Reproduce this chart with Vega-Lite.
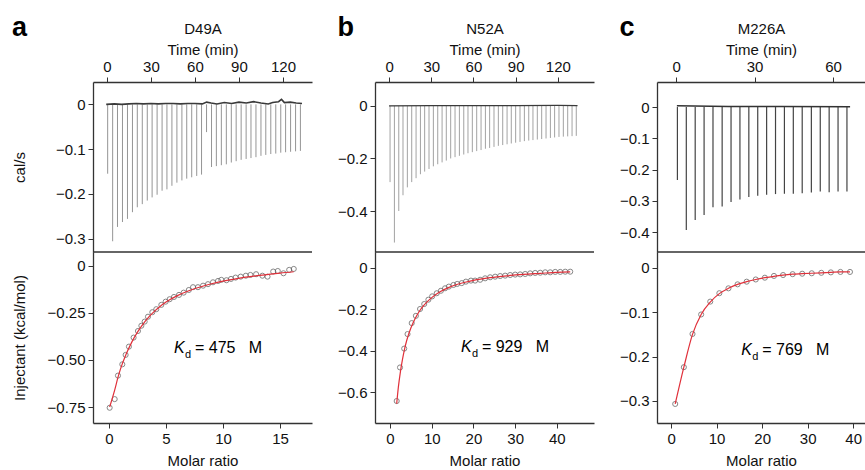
{
"$schema": "https://vega.github.io/schema/vega-lite/v6.json",
"padding": {"left": 12, "top": 14, "right": 0, "bottom": 0},
"config": {
  "font": "Liberation Sans",
  "view": {"stroke": null},
  "axis": {"grid": false, "labelFontSize": 15, "titleFontSize": 15, "titleFontWeight": "normal", "labelColor": "#111", "titleColor": "#111", "domainColor": "#333", "tickColor": "#333", "domainWidth": 1.3, "tickWidth": 1, "tickSize": 5, "labelPadding": 3, "titlePadding": 2, "labelFlush": false, "labelOverlap": false},
  "axisY": {"titlePadding": 5},
  "axisBottom": {"titlePadding": 7},
  "title": {"fontSize": 27, "fontWeight": "bold", "anchor": "start", "frame": "bounds", "color": "#000", "offset": -21, "baseline": "alphabetic"}
},
"datasets": {
  "spikesA": [{"t":0.5,"v":-0.155},{"t":3.9,"v":-0.306},{"t":7.2,"v":-0.274},{"t":10.6,"v":-0.263},{"t":14.0,"v":-0.256},{"t":17.4,"v":-0.241},{"t":20.7,"v":-0.23},{"t":24.1,"v":-0.223},{"t":27.5,"v":-0.215},{"t":30.8,"v":-0.208},{"t":34.2,"v":-0.202},{"t":37.6,"v":-0.193},{"t":40.9,"v":-0.19},{"t":44.3,"v":-0.182},{"t":47.7,"v":-0.175},{"t":51.1,"v":-0.17},{"t":54.4,"v":-0.166},{"t":57.8,"v":-0.163},{"t":61.2,"v":-0.16},{"t":64.5,"v":-0.157},{"t":67.9,"v":-0.062},{"t":71.3,"v":-0.14},{"t":74.6,"v":-0.138},{"t":78.0,"v":-0.136},{"t":81.4,"v":-0.134},{"t":84.8,"v":-0.13},{"t":88.1,"v":-0.127},{"t":91.5,"v":-0.124},{"t":94.9,"v":-0.122},{"t":98.2,"v":-0.12},{"t":101.6,"v":-0.118},{"t":105.0,"v":-0.115},{"t":108.3,"v":-0.113},{"t":111.7,"v":-0.111},{"t":115.1,"v":-0.11},{"t":118.5,"v":-0.108},{"t":121.8,"v":-0.107},{"t":125.2,"v":-0.106},{"t":128.6,"v":-0.105},{"t":131.9,"v":-0.104}],
  "baseA": [{"t":-0.5,"v":0},{"t":5,"v":0.001},{"t":10,"v":0},{"t":15,"v":0.001},{"t":20,"v":0.002},{"t":25,"v":0.001},{"t":30,"v":0.002},{"t":35,"v":0.001},{"t":40,"v":0.002},{"t":45,"v":0.002},{"t":50,"v":0.001},{"t":55,"v":0.002},{"t":60,"v":0.002},{"t":65,"v":0.001},{"t":68,"v":0.005},{"t":71,"v":0.003},{"t":75,"v":0.001},{"t":80,"v":0.004},{"t":85,"v":0.002},{"t":90,"v":0.005},{"t":95,"v":0.003},{"t":100,"v":0.006},{"t":105,"v":0.003},{"t":110,"v":0.001},{"t":113,"v":0.004},{"t":117,"v":0.006},{"t":119,"v":0.011},{"t":121,"v":0.004},{"t":125,"v":0.005},{"t":129,"v":0.003},{"t":133,"v":0.002}],
  "spikesB": [{"t":0.7,"v":-0.29},{"t":3.8,"v":-0.52},{"t":6.9,"v":-0.4},{"t":9.9,"v":-0.34},{"t":13.0,"v":-0.31},{"t":16.1,"v":-0.29},{"t":19.2,"v":-0.275},{"t":22.3,"v":-0.26},{"t":25.3,"v":-0.25},{"t":28.4,"v":-0.24},{"t":31.5,"v":-0.23},{"t":34.6,"v":-0.222},{"t":37.7,"v":-0.215},{"t":40.7,"v":-0.208},{"t":43.8,"v":-0.2},{"t":46.9,"v":-0.195},{"t":50.0,"v":-0.19},{"t":53.1,"v":-0.185},{"t":56.1,"v":-0.18},{"t":59.2,"v":-0.176},{"t":62.3,"v":-0.172},{"t":65.4,"v":-0.168},{"t":68.5,"v":-0.163},{"t":71.5,"v":-0.16},{"t":74.6,"v":-0.156},{"t":77.7,"v":-0.152},{"t":80.8,"v":-0.149},{"t":83.9,"v":-0.146},{"t":86.9,"v":-0.143},{"t":90.0,"v":-0.14},{"t":93.1,"v":-0.137},{"t":96.2,"v":-0.134},{"t":99.3,"v":-0.132},{"t":102.3,"v":-0.13},{"t":105.4,"v":-0.128},{"t":108.5,"v":-0.126},{"t":111.6,"v":-0.124},{"t":114.7,"v":-0.122},{"t":117.7,"v":-0.12},{"t":120.8,"v":-0.118},{"t":123.9,"v":-0.117},{"t":127.0,"v":-0.116},{"t":130.1,"v":-0.115},{"t":133.1,"v":-0.114}],
  "baseB": [{"t":0,"v":0},{"t":30,"v":0.001},{"t":60,"v":0.001},{"t":90,"v":0.001},{"t":120,"v":0.002},{"t":134,"v":0.001}],
  "spikesC": [{"t":0.5,"v":-0.233},{"t":3.9,"v":-0.393},{"t":7.3,"v":-0.361},{"t":10.7,"v":-0.345},{"t":14.1,"v":-0.32},{"t":17.6,"v":-0.318},{"t":21.0,"v":-0.303},{"t":24.4,"v":-0.295},{"t":27.8,"v":-0.287},{"t":31.2,"v":-0.283},{"t":34.6,"v":-0.28},{"t":38.0,"v":-0.278},{"t":41.4,"v":-0.277},{"t":44.8,"v":-0.277},{"t":48.2,"v":-0.275},{"t":51.7,"v":-0.273},{"t":55.1,"v":-0.27},{"t":58.5,"v":-0.272},{"t":61.9,"v":-0.27},{"t":65.3,"v":-0.27}],
  "baseC": [{"t":0.3,"v":0.004},{"t":20,"v":0.002},{"t":40,"v":0.002},{"t":66.5,"v":0.001}],
  "ptsA": [{"mr":0.06,"h":-0.754},{"mr":0.5,"h":-0.708},{"mr":0.79,"h":-0.583},{"mr":1.17,"h":-0.523},{"mr":1.46,"h":-0.473},{"mr":1.75,"h":-0.429},{"mr":2.16,"h":-0.381},{"mr":2.54,"h":-0.346},{"mr":2.84,"h":-0.318},{"mr":3.13,"h":-0.296},{"mr":3.42,"h":-0.27},{"mr":3.8,"h":-0.246},{"mr":4.15,"h":-0.23},{"mr":4.59,"h":-0.207},{"mr":4.97,"h":-0.19},{"mr":5.32,"h":-0.177},{"mr":5.7,"h":-0.165},{"mr":6.14,"h":-0.154},{"mr":6.55,"h":-0.142},{"mr":7.0,"h":-0.128},{"mr":7.37,"h":-0.113},{"mr":7.8,"h":-0.113},{"mr":8.25,"h":-0.105},{"mr":8.68,"h":-0.097},{"mr":9.12,"h":-0.087},{"mr":9.56,"h":-0.08},{"mr":9.85,"h":-0.074},{"mr":10.3,"h":-0.076},{"mr":10.7,"h":-0.069},{"mr":11.1,"h":-0.062},{"mr":11.55,"h":-0.057},{"mr":12.0,"h":-0.052},{"mr":12.4,"h":-0.048},{"mr":12.9,"h":-0.044},{"mr":13.45,"h":-0.052},{"mr":13.9,"h":-0.057},{"mr":14.4,"h":-0.03},{"mr":14.8,"h":-0.027},{"mr":15.3,"h":-0.039},{"mr":15.8,"h":-0.021},{"mr":16.2,"h":-0.016}],
  "fitA": [{"mr":0.06,"h":-0.75},{"mr":0.5,"h":-0.66},{"mr":0.8,"h":-0.59},{"mr":1,"h":-0.55},{"mr":1.5,"h":-0.47},{"mr":2,"h":-0.405},{"mr":2.5,"h":-0.352},{"mr":3,"h":-0.308},{"mr":3.5,"h":-0.271},{"mr":4,"h":-0.24},{"mr":4.5,"h":-0.214},{"mr":5,"h":-0.192},{"mr":6,"h":-0.158},{"mr":7,"h":-0.132},{"mr":8,"h":-0.112},{"mr":9,"h":-0.095},{"mr":10,"h":-0.081},{"mr":11,"h":-0.07},{"mr":12,"h":-0.06},{"mr":13,"h":-0.052},{"mr":14,"h":-0.045},{"mr":15,"h":-0.038},{"mr":16.2,"h":-0.031}],
  "ptsB": [{"mr":1.6,"h":-0.642},{"mr":2.4,"h":-0.48},{"mr":3.4,"h":-0.389},{"mr":4.2,"h":-0.319},{"mr":5.2,"h":-0.266},{"mr":6.2,"h":-0.231},{"mr":7.2,"h":-0.198},{"mr":8.2,"h":-0.174},{"mr":9.2,"h":-0.153},{"mr":10.1,"h":-0.137},{"mr":11.2,"h":-0.122},{"mr":12.2,"h":-0.11},{"mr":13.2,"h":-0.098},{"mr":14.1,"h":-0.09},{"mr":15.2,"h":-0.082},{"mr":16.1,"h":-0.077},{"mr":17.2,"h":-0.073},{"mr":18.2,"h":-0.066},{"mr":19.4,"h":-0.061},{"mr":20.4,"h":-0.061},{"mr":21.6,"h":-0.057},{"mr":22.8,"h":-0.05},{"mr":24.0,"h":-0.045},{"mr":25.2,"h":-0.042},{"mr":26.4,"h":-0.039},{"mr":27.6,"h":-0.037},{"mr":28.8,"h":-0.034},{"mr":30.0,"h":-0.032},{"mr":31.2,"h":-0.031},{"mr":32.4,"h":-0.029},{"mr":33.6,"h":-0.026},{"mr":34.8,"h":-0.024},{"mr":36.0,"h":-0.023},{"mr":37.2,"h":-0.021},{"mr":38.4,"h":-0.021},{"mr":39.6,"h":-0.019},{"mr":40.8,"h":-0.019},{"mr":42.0,"h":-0.018},{"mr":43.2,"h":-0.018}],
  "fitB": [{"mr":1.6,"h":-0.655},{"mr":2,"h":-0.575},{"mr":2.5,"h":-0.5},{"mr":3,"h":-0.44},{"mr":3.5,"h":-0.39},{"mr":4,"h":-0.35},{"mr":5,"h":-0.29},{"mr":6,"h":-0.245},{"mr":7,"h":-0.21},{"mr":8,"h":-0.183},{"mr":9,"h":-0.161},{"mr":10,"h":-0.143},{"mr":12,"h":-0.115},{"mr":14,"h":-0.095},{"mr":16,"h":-0.08},{"mr":18,"h":-0.069},{"mr":20,"h":-0.06},{"mr":24,"h":-0.047},{"mr":28,"h":-0.038},{"mr":32,"h":-0.031},{"mr":36,"h":-0.026},{"mr":40,"h":-0.021},{"mr":43.2,"h":-0.019}],
  "ptsC": [{"mr":0.9,"h":-0.307},{"mr":2.8,"h":-0.224},{"mr":4.7,"h":-0.149},{"mr":6.6,"h":-0.105},{"mr":8.6,"h":-0.076},{"mr":10.6,"h":-0.057},{"mr":12.6,"h":-0.046},{"mr":14.6,"h":-0.037},{"mr":16.6,"h":-0.031},{"mr":18.6,"h":-0.026},{"mr":20.6,"h":-0.022},{"mr":22.6,"h":-0.018},{"mr":24.6,"h":-0.016},{"mr":26.7,"h":-0.014},{"mr":28.8,"h":-0.013},{"mr":30.9,"h":-0.012},{"mr":33.0,"h":-0.011},{"mr":35.1,"h":-0.01},{"mr":37.2,"h":-0.009},{"mr":39.3,"h":-0.009}],
  "fitC": [{"mr":0.9,"h":-0.307},{"mr":2.8,"h":-0.224},{"mr":4.7,"h":-0.15},{"mr":6.6,"h":-0.105},{"mr":8.6,"h":-0.077},{"mr":10.6,"h":-0.058},{"mr":12.6,"h":-0.046},{"mr":14.6,"h":-0.037},{"mr":16.6,"h":-0.031},{"mr":18.6,"h":-0.026},{"mr":20.6,"h":-0.022},{"mr":22.6,"h":-0.019},{"mr":24.6,"h":-0.016},{"mr":26.7,"h":-0.014},{"mr":28.8,"h":-0.013},{"mr":30.9,"h":-0.012},{"mr":33.0,"h":-0.011},{"mr":35.1,"h":-0.01},{"mr":37.2,"h":-0.009},{"mr":39.3,"h":-0.009}],
  "edge": [{"line": "divider"}]
},
"columns": 3,
"spacing": {"row": 0, "column": 63},
"bounds": "flush",
"concat": [
  {
    "width": 219, "height": 170, "title": "a",
    "encoding": {
      "x": {"field": "t", "type": "quantitative", "scale": {"domain": [-9.5, 139.8], "nice": false, "zero": false}, "axis": {"orient": "top", "values": [0, 30, 60, 90, 120], "title": ["D49A", "Time (min)"], "titleLineHeight": 21}},
      "y": {"field": "v", "type": "quantitative", "scale": {"domain": [-0.33, 0.05], "nice": false, "zero": false}, "axis": {"values": [0, -0.1, -0.2, -0.3], "title": "cal/s", "minExtent": 61, "labelExpr": "datum.value == 0 ? '0' : format(datum.value, '.1f')"}}
    },
    "layer": [
      {"data": {"name": "spikesA"}, "mark": {"type": "rule", "color": "#7a7a7a", "strokeWidth": 0.8}, "encoding": {"y2": {"datum": 0}}},
      {"data": {"name": "baseA"}, "mark": {"type": "line", "color": "#3a3a3a", "strokeWidth": 1.6}}
    ]
  },
  {
    "width": 219, "height": 170, "title": "b",
    "encoding": {
      "x": {"field": "t", "type": "quantitative", "scale": {"domain": [-10, 145.7], "nice": false, "zero": false}, "axis": {"orient": "top", "values": [0, 30, 60, 90, 120], "title": ["N52A", "Time (min)"], "titleLineHeight": 21}},
      "y": {"field": "v", "type": "quantitative", "scale": {"domain": [-0.556, 0.091], "nice": false, "zero": false}, "axis": {"values": [0, -0.2, -0.4], "title": null, "labelExpr": "datum.value == 0 ? '0' : format(datum.value, '.1f')"}}
    },
    "layer": [
      {"data": {"name": "spikesB"}, "mark": {"type": "rule", "color": "#8a8a8a", "strokeWidth": 0.8}, "encoding": {"y2": {"datum": 0}}},
      {"data": {"name": "baseB"}, "mark": {"type": "line", "color": "#3a3a3a", "strokeWidth": 1.4}}
    ]
  },
  {
    "width": 208, "height": 170, "title": "c",
    "encoding": {
      "x": {"field": "t", "type": "quantitative", "scale": {"domain": [-7.3, 72.2], "nice": false, "zero": false}, "axis": {"orient": "top", "values": [0, 30, 60], "title": ["M226A", "Time (min)"], "titleLineHeight": 21}},
      "y": {"field": "v", "type": "quantitative", "scale": {"domain": [-0.463, 0.08], "nice": false, "zero": false}, "axis": {"values": [0, -0.1, -0.2, -0.3, -0.4], "title": null, "labelExpr": "datum.value == 0 ? '0' : format(datum.value, '.1f')"}}
    },
    "layer": [
      {"data": {"name": "spikesC"}, "mark": {"type": "rule", "color": "#444", "strokeWidth": 1.2}, "encoding": {"y2": {"datum": 0}}},
      {"data": {"name": "baseC"}, "mark": {"type": "line", "color": "#333", "strokeWidth": 1.5}}
    ]
  },
  {
    "width": 219, "height": 171,
    "layer": [
      {"data": {"name": "ptsA"}, "mark": {"type": "point", "shape": "circle", "filled": false, "size": 26, "color": "#555", "strokeWidth": 1},
       "encoding": {
          "x": {"field": "mr", "type": "quantitative", "scale": {"domain": [-1.4, 17.8], "nice": false, "zero": false}, "axis": {"values": [0, 5, 10, 15], "title": "Molar ratio"}},
          "y": {"field": "h", "type": "quantitative", "scale": {"domain": [-0.835, 0.074], "nice": false, "zero": false}, "axis": {"values": [0, -0.25, -0.5, -0.75], "title": "Injectant (kcal/mol)", "minExtent": 61, "labelExpr": "datum.value == 0 ? '0' : format(datum.value, '.2f')"}}}},
      {"data": {"name": "fitA"}, "mark": {"type": "line", "color": "#e0303a", "strokeWidth": 1.2, "interpolate": "monotone"},
       "encoding": {"x": {"field": "mr", "type": "quantitative"}, "y": {"field": "h", "type": "quantitative"}}},
      {"data": {"name": "edge"}, "mark": {"type": "rule", "color": "#333", "strokeWidth": 1.3}, "encoding": {"y": {"datum": 0.074}}},
      {"data": {"values": [{"s": "K"}]}, "mark": {"type": "text", "fontStyle": "italic", "fontSize": 16, "align": "left", "baseline": "alphabetic", "color": "#000"}, "encoding": {"text": {"field": "s"}, "x": {"datum": 5.7}, "y": {"datum": -0.463}}},
      {"data": {"values": [{"s": "d"}]}, "mark": {"type": "text", "fontSize": 11, "dx": 11, "dy": 5, "align": "left", "baseline": "alphabetic", "color": "#000"}, "encoding": {"text": {"field": "s"}, "x": {"datum": 5.7}, "y": {"datum": -0.463}}},
      {"data": {"values": [{"s": "= 475\u00a0\u00a0\u00a0M"}]}, "mark": {"type": "text", "fontSize": 16, "dx": 21, "align": "left", "baseline": "alphabetic", "color": "#000"}, "encoding": {"text": {"field": "s"}, "x": {"datum": 5.7}, "y": {"datum": -0.463}}}
    ]
  },
  {
    "width": 219, "height": 171,
    "layer": [
      {"data": {"name": "ptsB"}, "mark": {"type": "point", "shape": "circle", "filled": false, "size": 26, "color": "#555", "strokeWidth": 1},
       "encoding": {
          "x": {"field": "mr", "type": "quantitative", "scale": {"domain": [-3.6, 48.9], "nice": false, "zero": false}, "axis": {"values": [0, 10, 20, 30, 40], "title": "Molar ratio"}},
          "y": {"field": "h", "type": "quantitative", "scale": {"domain": [-0.748, 0.077], "nice": false, "zero": false}, "axis": {"values": [0, -0.2, -0.4, -0.6], "title": null, "labelExpr": "datum.value == 0 ? '0' : format(datum.value, '.1f')"}}}},
      {"data": {"name": "fitB"}, "mark": {"type": "line", "color": "#e0303a", "strokeWidth": 1.2, "interpolate": "monotone"},
       "encoding": {"x": {"field": "mr", "type": "quantitative"}, "y": {"field": "h", "type": "quantitative"}}},
      {"data": {"name": "edge"}, "mark": {"type": "rule", "color": "#333", "strokeWidth": 1.3}, "encoding": {"y": {"datum": 0.077}}},
      {"data": {"values": [{"s": "K"}]}, "mark": {"type": "text", "fontStyle": "italic", "fontSize": 16, "align": "left", "baseline": "alphabetic", "color": "#000"}, "encoding": {"text": {"field": "s"}, "x": {"datum": 17.0}, "y": {"datum": -0.406}}},
      {"data": {"values": [{"s": "d"}]}, "mark": {"type": "text", "fontSize": 11, "dx": 11, "dy": 5, "align": "left", "baseline": "alphabetic", "color": "#000"}, "encoding": {"text": {"field": "s"}, "x": {"datum": 17.0}, "y": {"datum": -0.406}}},
      {"data": {"values": [{"s": "= 929\u00a0\u00a0\u00a0M"}]}, "mark": {"type": "text", "fontSize": 16, "dx": 21, "align": "left", "baseline": "alphabetic", "color": "#000"}, "encoding": {"text": {"field": "s"}, "x": {"datum": 17.0}, "y": {"datum": -0.406}}}
    ]
  },
  {
    "width": 208, "height": 171,
    "layer": [
      {"data": {"name": "ptsC"}, "mark": {"type": "point", "shape": "circle", "filled": false, "size": 26, "color": "#555", "strokeWidth": 1},
       "encoding": {
          "x": {"field": "mr", "type": "quantitative", "scale": {"domain": [-3.1, 42.6], "nice": false, "zero": false}, "axis": {"values": [0, 10, 20, 30, 40], "title": "Molar ratio"}},
          "y": {"field": "h", "type": "quantitative", "scale": {"domain": [-0.35, 0.036], "nice": false, "zero": false}, "axis": {"values": [0, -0.1, -0.2, -0.3], "title": null, "labelExpr": "datum.value == 0 ? '0' : format(datum.value, '.1f')"}}}},
      {"data": {"name": "fitC"}, "mark": {"type": "line", "color": "#e0303a", "strokeWidth": 1.2, "interpolate": "monotone"},
       "encoding": {"x": {"field": "mr", "type": "quantitative"}, "y": {"field": "h", "type": "quantitative"}}},
      {"data": {"name": "edge"}, "mark": {"type": "rule", "color": "#333", "strokeWidth": 1.3}, "encoding": {"y": {"datum": 0.036}}},
      {"data": {"values": [{"s": "K"}]}, "mark": {"type": "text", "fontStyle": "italic", "fontSize": 16, "align": "left", "baseline": "alphabetic", "color": "#000"}, "encoding": {"text": {"field": "s"}, "x": {"datum": 15.4}, "y": {"datum": -0.196}}},
      {"data": {"values": [{"s": "d"}]}, "mark": {"type": "text", "fontSize": 11, "dx": 11, "dy": 5, "align": "left", "baseline": "alphabetic", "color": "#000"}, "encoding": {"text": {"field": "s"}, "x": {"datum": 15.4}, "y": {"datum": -0.196}}},
      {"data": {"values": [{"s": "= 769\u00a0\u00a0\u00a0M"}]}, "mark": {"type": "text", "fontSize": 16, "dx": 21, "align": "left", "baseline": "alphabetic", "color": "#000"}, "encoding": {"text": {"field": "s"}, "x": {"datum": 15.4}, "y": {"datum": -0.196}}}
    ]
  }
]
}
